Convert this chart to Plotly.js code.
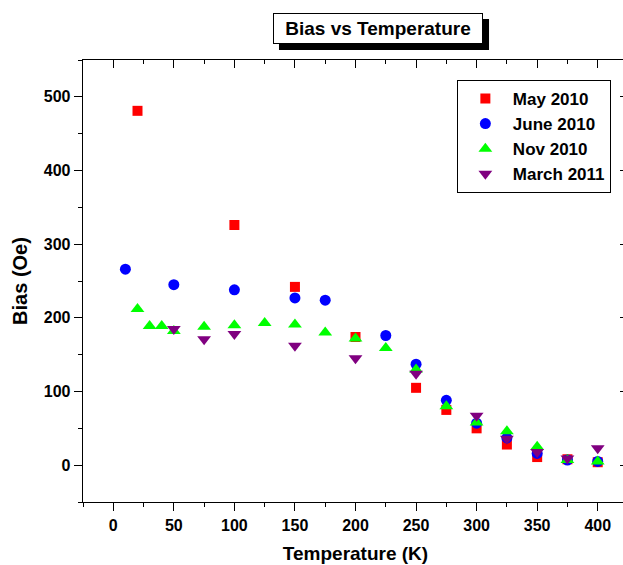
<!DOCTYPE html>
<html>
<head>
<meta charset="utf-8">
<script src="https://cdn.plot.ly/plotly-3.0.1.min.js"></script>
<style>
html,body{margin:0;padding:0;background:#fff;overflow:hidden;}
#wrap{width:623px;height:565px;overflow:hidden;}
</style>
</head>
<body>
<div id="wrap"><div id="chart"></div></div>
<script>
// Data
const may2010T = [20, 100, 150, 200, 250, 275, 300, 325, 350, 375, 400];
const may2010B = [481, 326, 242, 174, 105, 75, 50, 28, 11, 8, 4];

const june2010T = [10, 50, 100, 150, 175, 225, 250, 275, 300, 325, 350, 375, 400];
const june2010B = [266, 245, 238, 227, 224, 176, 137, 88, 57, 37, 16, 7, 5];

const nov2010T = [20, 30, 40, 50, 75, 100, 125, 150, 175, 200, 225, 250, 275, 300, 325, 350, 375, 400];
const nov2010B = [212, 189, 189, 182, 188, 190, 193, 191, 180, 172, 159, 130, 80, 58, 46, 25, 7, 5];

const mar2011T = [50, 75, 100, 150, 200, 250, 300, 325, 350, 375, 400];
const mar2011B = [185, 171, 178, 162, 145, 124, 67, 36, 18, 9, 23];

const seriesNames = ['May 2010', 'June 2010', 'Nov 2010', 'March 2011'];
const titleText = 'Bias vs Temperature';
const xTitle = 'Temperature (K)';
const yTitle = 'Bias (Oe)';

const FONT = 'Liberation Sans, Arial, sans-serif';

const traces = [
  {x: may2010T, y: may2010B, name: seriesNames[0], type: 'scatter', mode: 'markers',
   marker: {symbol: 'square', size: 10, color: '#ff0000'}},
  {x: june2010T, y: june2010B, name: seriesNames[1], type: 'scatter', mode: 'markers',
   marker: {symbol: 'circle', size: 11, color: '#0000ff'}},
  {x: nov2010T, y: nov2010B, name: seriesNames[2], type: 'scatter', mode: 'markers',
   marker: {symbol: 'triangle-up', size: 12, color: '#00ff00'}},
  {x: mar2011T, y: mar2011B, name: seriesNames[3], type: 'scatter', mode: 'markers',
   marker: {symbol: 'triangle-down', size: 12, color: '#800080'}},
  {x: [], y: [], xaxis: 'x2', yaxis: 'y', showlegend: false, hoverinfo: 'skip', type: 'scatter', mode: 'markers'},
  {x: [], y: [], xaxis: 'x', yaxis: 'y2', showlegend: false, hoverinfo: 'skip', type: 'scatter', mode: 'markers'}
];

const tickFont = {family: FONT, size: 16, color: '#000', weight: 'bold'};

const layout = {
  width: 630, height: 565,
  margin: {l: 83, r: 2, t: 60, b: 63},
  paper_bgcolor: '#fff', plot_bgcolor: '#fff',
  font: {family: FONT, color: '#000'},
  showlegend: true,
  legend: {
    x: 0.686, y: 0.955, xanchor: 'left', yanchor: 'top',
    bordercolor: '#000', borderwidth: 1, bgcolor: '#fff',
    font: {family: FONT, size: 17, color: '#000', weight: 'bold'},
    itemwidth: 45, tracegroupgap: 0
  },
  xaxis: {
    range: [-25, 425], autorange: false,
    tick0: 0, dtick: 50, ticks: 'outside', ticklen: 8, tickwidth: 1, tickcolor: '#000',
    minor: {dtick: 25, ticks: 'outside', ticklen: 4, tickwidth: 1, tickcolor: '#000', showgrid: false},
    showline: true, linecolor: '#000', linewidth: 1.3, mirror: true,
    showgrid: false, zeroline: false,
    tickfont: tickFont,
    title: {text: xTitle, font: {family: FONT, size: 19, color: '#000', weight: 'bold'}, standoff: 14}
  },
  yaxis: {
    range: [-50, 550], autorange: false,
    tick0: 0, dtick: 100, ticks: 'outside', ticklen: 8, tickwidth: 1, tickcolor: '#000',
    minor: {dtick: 50, ticks: 'outside', ticklen: 4, tickwidth: 1, tickcolor: '#000', showgrid: false},
    showline: true, linecolor: '#000', linewidth: 1.3, mirror: true,
    showgrid: false, zeroline: false,
    tickfont: tickFont,
    title: {text: yTitle, font: {family: FONT, size: 20, color: '#000', weight: 'bold'}, standoff: 10}
  },
  xaxis2: {
    overlaying: 'x', side: 'top', anchor: 'y',
    range: [-25, 425], autorange: false,
    tick0: 0, dtick: 50, ticks: 'inside', ticklen: 8, tickwidth: 1, tickcolor: '#000',
    minor: {dtick: 25, ticks: 'inside', ticklen: 4, tickwidth: 1, tickcolor: '#000', showgrid: false},
    showticklabels: false, showline: false, showgrid: false, zeroline: false
  },
  yaxis2: {
    overlaying: 'y', side: 'right', anchor: 'x',
    range: [-50, 550], autorange: false,
    tick0: 0, dtick: 100, ticks: 'inside', ticklen: 8, tickwidth: 1, tickcolor: '#000',
    minor: {dtick: 50, ticks: 'inside', ticklen: 4, tickwidth: 1, tickcolor: '#000', showgrid: false},
    showticklabels: false, showline: false, showgrid: false, zeroline: false
  },
  shapes: [
    // drop shadow behind the title box (paper coordinates)
    {type: 'rect', xref: 'paper', yref: 'paper', layer: 'above',
     x0: 0.3596, x1: 0.745, y0: 1.0226, y1: 1.0928,
     fillcolor: '#000', line: {width: 0}}
  ],
  annotations: [
    {text: titleText, xref: 'paper', yref: 'paper', x: 0.541, y: 1.071,
     xanchor: 'center', yanchor: 'middle', showarrow: false,
     width: 208, height: 29, borderpad: 0, borderwidth: 1,
     bgcolor: '#fff', bordercolor: '#000',
     font: {family: FONT, size: 19, color: '#000', weight: 'bold'}}
  ]
};

Plotly.newPlot('chart', traces, layout, {displayModeBar: false, staticPlot: true});
</script>
</body>
</html>
